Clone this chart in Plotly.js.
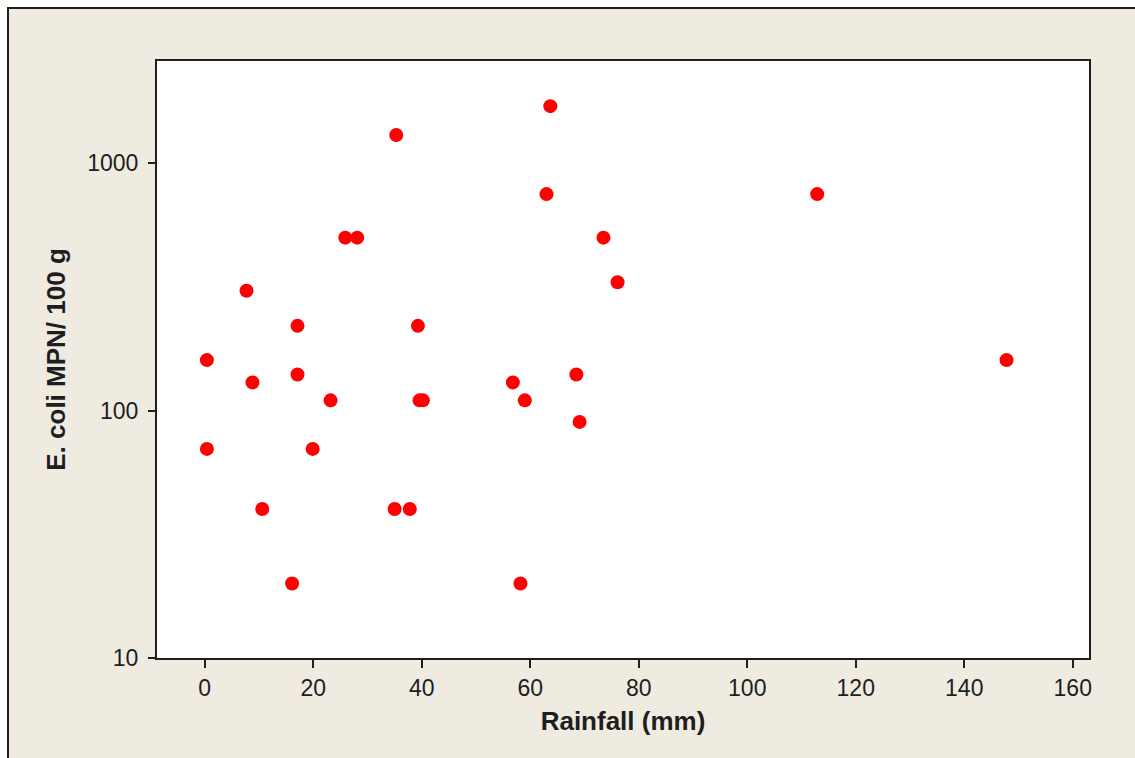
<!DOCTYPE html>
<html>
<head>
<meta charset="utf-8">
<script src="https://cdn.plot.ly/plotly-3.0.1.min.js"></script>
<style>
  html, body { margin: 0; padding: 0; background: #ffffff; }
  #frame { position: absolute; left: 7px; top: 7px; width: 1128px; height: 751px;
           background: #EFEBE1; border-left: 2px solid #1e1e1e; border-top: 2px solid #1e1e1e; box-sizing: border-box; }
  #chart { position: absolute; left: 0; top: 0; width: 1135px; height: 758px; }
</style>
</head>
<body>
<div id="frame"></div>
<div id="chart"></div>
<script>
// Rainfall (mm)
var rainfall = [0.4, 0.4, 7.7, 8.8, 10.6, 16.1, 17.1, 17.1, 19.9, 23.2,
                25.9, 28.1, 35.3, 35.0, 37.8, 39.3, 39.6, 40.2, 56.8, 58.2,
                59.0, 63.0, 63.7, 68.5, 69.1, 73.5, 76.1, 112.9, 147.8];
// E. coli MPN/100 g
var ecoli = [160, 70, 305, 130, 40, 20, 220, 140, 70, 110,
             500, 500, 1300, 40, 40, 220, 110, 110, 130, 20,
             110, 750, 1700, 140, 90, 500, 330, 750, 160];

var xTickVals = [0, 20, 40, 60, 80, 100, 120, 140, 160];
var yTickVals = [10, 100, 1000];
var yTickText = ['10', '100', '1000'];

var trace = {
  x: rainfall,
  y: ecoli,
  type: 'scatter',
  mode: 'markers',
  marker: { color: '#FF0000', size: 14, line: { width: 0 } },
  hoverinfo: 'x+y'
};

var axisCommon = {
  showgrid: false,
  zeroline: false,
  showline: true,
  mirror: true,
  linecolor: '#1e1e1e',
  linewidth: 2,
  ticks: 'outside',
  ticklen: 8,
  tickwidth: 2,
  tickcolor: '#1e1e1e',
  tickfont: { family: 'Liberation Sans, Arial, sans-serif', size: 23, color: '#1e1e1e' }
};

var layout = {
  width: 1135,
  height: 758,
  margin: { l: 157, r: 46, t: 61, b: 100, pad: 0 },
  paper_bgcolor: 'rgba(0,0,0,0)',
  plot_bgcolor: '#FFFFFF',
  showlegend: false,
  xaxis: Object.assign({}, axisCommon, {
    range: [-8.8, 163.0],
    tickmode: 'array',
    tickvals: xTickVals,
    title: { text: 'Rainfall (mm)', standoff: 12,
             font: { family: 'Liberation Sans, Arial, sans-serif', size: 26, color: '#1e1e1e', weight: 'bold' } }
  }),
  yaxis: Object.assign({}, axisCommon, {
    type: 'log',
    range: [1, 3.413],
    tickmode: 'array',
    tickvals: yTickVals,
    ticktext: yTickText,
    ticklen: 7,
    ticklabelstandoff: 5,
    title: { text: 'E. coli MPN/ 100 g', standoff: 14,
             font: { family: 'Liberation Sans, Arial, sans-serif', size: 26, color: '#1e1e1e', weight: 'bold' } }
  })
};

Plotly.newPlot('chart', [trace], layout, { displayModeBar: false, staticPlot: true });
</script>
</body>
</html>
